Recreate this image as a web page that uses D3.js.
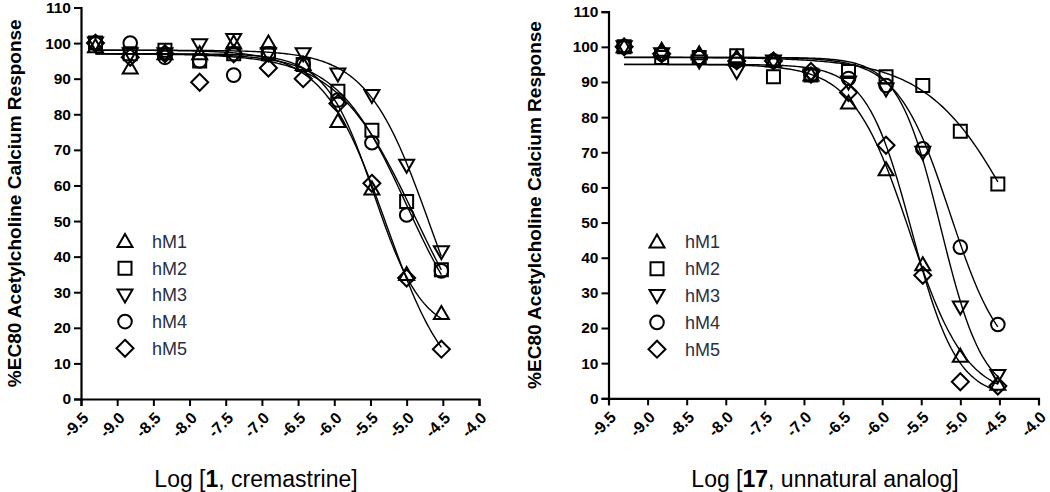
<!DOCTYPE html>
<html>
<head>
<meta charset="utf-8">
<script src="https://cdn.jsdelivr.net/npm/d3@7"></script>
<style>
  html, body { margin: 0; padding: 0; background: #fff; }
  svg { display: block; }
  text { font-family: "Liberation Sans", Arial, Helvetica, sans-serif; }
</style>
</head>
<body>
<svg id="chart" width="1050" height="492"></svg>
<script>
// ---------------- DATA ----------------
const seriesNames = ["hM1", "hM2", "hM3", "hM4", "hM5"];
const logConc = [-9.30, -8.82, -8.34, -7.86, -7.39, -6.91, -6.43, -5.95, -5.48, -5.00, -4.52];
const xTicks = [-9.5, -9.0, -8.5, -8.0, -7.5, -7.0, -6.5, -6.0, -5.5, -5.0, -4.5, -4.0];
const yTicks = [0, 10, 20, 30, 40, 50, 60, 70, 80, 90, 100, 110];

// Panel 1: cremastrine
const crem_hM1 = [99, 93, 97, 97, 100, 100, 94, 78, 59, 35, 24];
const crem_hM2 = [100, 97, 98, 95, 97, 97, 94, 86.5, 75.5, 55.5, 36.3];
const crem_hM3 = [100, 97, 97, 99.5, 101, 97, 97, 91.3, 85.3, 65.7, 41.4];
const crem_hM4 = [100, 100, 96, 95, 91, 97, 94, 84, 72, 51.7, 36];
const crem_hM5 = [100, 96, 97, 89, 97, 93, 90, 83, 60.6, 34, 14];
// fitted curve parameters [top, bottom, logIC50, hill]
const cremFit_hM1 = [97, 18, -5.45, 1.3];
const cremFit_hM2 = [97, 5, -4.88, 0.8];
const cremFit_hM3 = [98, 0, -4.68, 1.0];
const cremFit_hM4 = [97, 12, -5.0, 0.9];
const cremFit_hM5 = [98, 0, -5.28, 1.0];

// Panel 2: unnatural analog 17
const anal_hM1 = [100, 99, 98, 97, 96, 92, 84, 65, 38, 12, 4];
const anal_hM2 = [100, 97, 97, 97.5, 91.5, 92, 93, 91.5, 89, 76, 61];
const anal_hM3 = [100, 98, 96, 93, 96, 92, 90, 88, 70, 26, 6.5];
const anal_hM4 = [100, 98, 97, 96, 96, 92, 91, 89, 71, 43, 21];
const anal_hM5 = [100, 98, 97, 96, 96, 93, 87, 72, 35, 4.7, 3.5];
const analFit_hM1 = [95, 0, -5.65, 1.2];
const analFit_hM2 = [97, 0, -4.2, 0.75];
const analFit_hM3 = [97, 0, -5.25, 1.6];
const analFit_hM4 = [97, 8, -5.13, 1.3];
const analFit_hM5 = [95, 0, -5.62, 1.5];

const yTitle = "%EC80 Acetylcholine Calcium Response";
// ---------------- LAYOUT ----------------
const panels = [
  { values: [crem_hM1, crem_hM2, crem_hM3, crem_hM4, crem_hM5],
    fits: [cremFit_hM1, cremFit_hM2, cremFit_hM3, cremFit_hM4, cremFit_hM5],
    titleParts: [["Log [", false], ["1", true], [", cremastrine]", false]],
    x0: 81, x1: 479, yTop: 7.5, yBot: 399,
    titleX: 256, yTitleX: 21, legSymX: 125, legTextX: 152, legY0: 241.5, legDy: 26.7 },
  { values: [anal_hM1, anal_hM2, anal_hM3, anal_hM4, anal_hM5],
    fits: [analFit_hM1, analFit_hM2, analFit_hM3, analFit_hM4, analFit_hM5],
    titleParts: [["Log [", false], ["17", true], [", unnatural analog]", false]],
    x0: 608.5, x1: 1038.5, yTop: 11.7, yBot: 398.3,
    titleX: 825, yTitleX: 541, legSymX: 657, legTextX: 685, legY0: 242, legDy: 26.8 }
];

const svg = d3.select("#chart");

function markerPath(i) {
  switch (i) {
    case 0: return "M0,-7.5L7.5,5.5L-7.5,5.5Z";          // triangle up
    case 1: return "M-6.5,-6.5H6.5V6.5H-6.5Z";            // square
    case 2: return "M0,7.5L7.5,-5.5L-7.5,-5.5Z";          // triangle down
    case 3: return d3.arc()({innerRadius: 0, outerRadius: 6.8, startAngle: 0, endAngle: 2 * Math.PI}); // circle
    case 4: return "M0,-8.5L8.5,0L0,8.5L-8.5,0Z";        // diamond
  }
}

function logistic(p, x) {
  const [top, bottom, c, h] = p;
  return bottom + (top - bottom) / (1 + Math.pow(10, (x - c) * h));
}

panels.forEach(P => {
  const x = d3.scaleLinear().domain([-9.5, -4.0]).range([P.x0, P.x1]);
  const y = d3.scaleLinear().domain([0, 110]).range([P.yBot, P.yTop]);
  const g = svg.append("g");

  // Y axis
  const yAxis = g.append("g").attr("transform", `translate(${P.x0},0)`)
    .call(d3.axisLeft(y).tickValues(yTicks).tickSize(7).tickPadding(3).tickFormat(d => String(d)));
  yAxis.select(".domain").attr("stroke", "#000").attr("stroke-width", 2.2);
  yAxis.selectAll(".tick line").attr("stroke", "#000").attr("stroke-width", 2);
  yAxis.selectAll(".tick text").attr("font-size", 15.5).attr("font-weight", "bold").attr("fill", "#000");

  // X axis
  const xAxis = g.append("g").attr("transform", `translate(0,${P.yBot})`)
    .call(d3.axisBottom(x).tickValues(xTicks).tickSize(7).tickFormat(d => d.toFixed(1)));
  xAxis.select(".domain").attr("stroke", "#000").attr("stroke-width", 2.2);
  xAxis.selectAll(".tick line").attr("stroke", "#000").attr("stroke-width", 2);
  xAxis.selectAll(".tick text")
    .attr("font-size", 16).attr("font-weight", "bold").attr("fill", "#000")
    .attr("text-anchor", "end").attr("y", 0).attr("dy", 0)
    .attr("transform", "translate(8,20) rotate(-45)");

  // Y title
  g.append("text")
    .attr("transform", `translate(${P.yTitleX},${(P.yTop + P.yBot) / 2}) rotate(-90)`)
    .attr("text-anchor", "middle").attr("font-size", 19).attr("font-weight", "bold")
    .attr("fill", "#000").text(yTitle);

  // X title
  const xt = g.append("text").attr("x", P.titleX).attr("y", 487)
    .attr("text-anchor", "middle").attr("font-size", 23).attr("fill", "#000");
  P.titleParts.forEach(([t, b]) => xt.append("tspan").attr("font-weight", b ? "bold" : "normal").text(t));

  // Curves
  const line = d3.line().x(d => x(d[0])).y(d => y(d[1]));
  const xs = d3.range(0, 201).map(k => logConc[0] + (logConc[logConc.length - 1] - logConc[0]) * k / 200);
  P.fits.forEach(p => {
    g.append("path").datum(xs.map(v => [v, logistic(p, v)]))
      .attr("d", line).attr("fill", "none").attr("stroke", "#000").attr("stroke-width", 1.4);
  });

  // Points
  P.values.forEach((vals, i) => {
    g.append("g").selectAll("path").data(vals).join("path")
      .attr("transform", (d, j) => `translate(${x(logConc[j])},${y(d)})`)
      .attr("d", markerPath(i))
      .attr("fill", "none").attr("stroke", "#000").attr("stroke-width", 2);
  });

  // Legend
  seriesNames.forEach((name, i) => {
    const ly = P.legY0 + i * P.legDy;
    g.append("path").attr("transform", `translate(${P.legSymX},${ly})`)
      .attr("d", markerPath(i)).attr("fill", "none").attr("stroke", "#000").attr("stroke-width", 2);
    g.append("text").attr("x", P.legTextX).attr("y", ly).attr("dy", "0.36em")
      .attr("font-size", 18).attr("fill", "#2a2f3f").text(name);
  });
});
</script>
</body>
</html>
